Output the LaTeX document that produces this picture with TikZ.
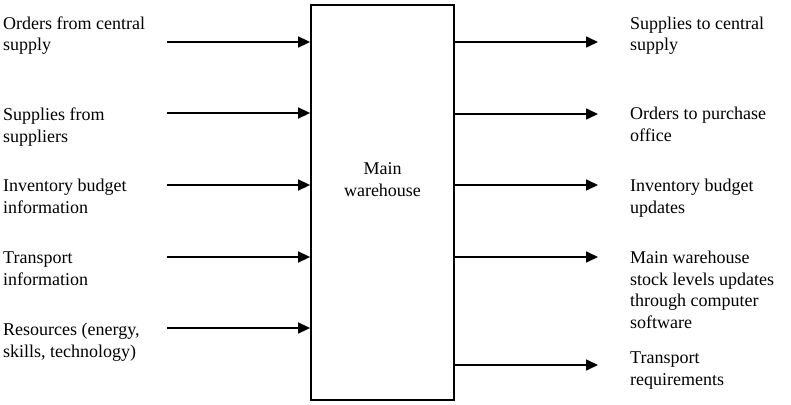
\documentclass[tikz,border=0pt]{standalone}
\usepackage{fontspec}
\setmainfont{Liberation Serif}
\usetikzlibrary{arrows.meta}
\begin{document}
\begin{tikzpicture}[x=1pt,y=-1pt,
  lbl/.style={anchor=base west,inner sep=0pt,align=left,font=\fontsize{18}{21.5}\selectfont},
  arr/.style={line width=1.6pt,-{Triangle[length=12pt,width=11pt]}},
  boxstyle/.style={draw,line width=1.8pt,minimum width=143pt,minimum height=395pt,inner sep=0pt}]
\useasboundingbox (0,0) rectangle (791,404);
\node[boxstyle] (box) at (382.5,202.5) {};
\node[anchor=base,inner sep=0pt,align=center,font=\fontsize{18}{21.5}\selectfont] (title) at (382.5,196) {Main\\warehouse};
% left labels (anchored at the baseline of the last line)
\node[lbl] (L1) at (3,51) {Orders from central\\supply};
\node[lbl] (L2) at (3,142) {Supplies from\\suppliers};
\node[lbl] (L3) at (3,213) {Inventory budget\\information};
\node[lbl] (L4) at (3,285) {Transport\\information};
\node[lbl] (L5) at (3,357) {Resources (energy,\\skills, technology)};
% right labels
\node[lbl] (R1) at (630,51) {Supplies to central\\supply};
\node[lbl] (R2) at (630,141) {Orders to purchase\\office};
\node[lbl] (R3) at (630,213) {Inventory budget\\updates};
\node[lbl] (R4) at (630,328) {Main warehouse\\stock levels updates\\through computer\\software};
\node[lbl] (R5) at (630,385) {Transport\\requirements};
% arrow start/end points
\coordinate (a1) at (167,42);
\coordinate (a2) at (167,113);
\coordinate (a3) at (167,185);
\coordinate (a4) at (167,257);
\coordinate (a5) at (167,328);
\coordinate (b1) at (598,42);
\coordinate (b2) at (598,114);
\coordinate (b3) at (598,185);
\coordinate (b4) at (598,257);
\coordinate (b5) at (598,365);
\foreach \i in {1,...,5}{
  \draw[arr] (a\i) -- (a\i -| box.west);
  \draw[arr] (b\i -| box.east) -- (b\i);
}
\end{tikzpicture}
\end{document}
